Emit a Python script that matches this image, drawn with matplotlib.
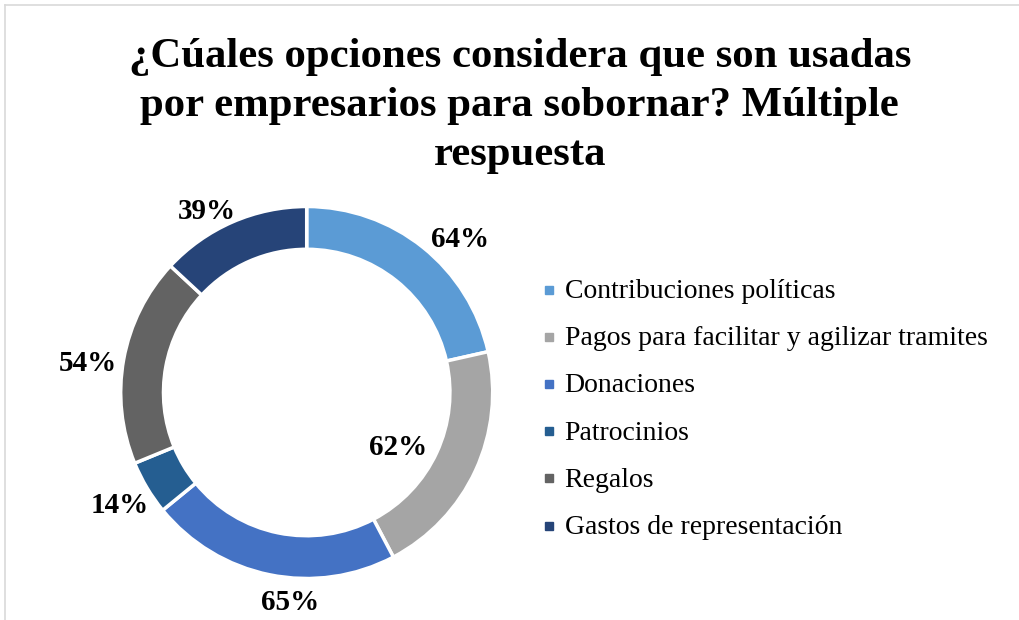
import numpy as np
import matplotlib
matplotlib.use('Agg')
import matplotlib.pyplot as plt
from matplotlib.lines import Line2D

# data
categories = ['Contribuciones políticas', 'Pagos para facilitar y agilizar tramites',
              'Donaciones', 'Patrocinios', 'Regalos', 'Gastos de representación']
values = [64, 62, 65, 14, 54, 39]
labels = ['64%', '62%', '65%', '14%', '54%', '39%']
title = '¿Cúales opciones considera que son usadas\npor empresarios para sobornar? Múltiple\nrespuesta'

colors = ['#5B9BD5', '#A5A5A5', '#4472C4', '#255E91', '#636363', '#264478']
# label placement tweaks (radius factor, angle nudge in degrees)
label_r = [1.17, 0.57, 1.12, 1.17, 1.19, 1.12]
label_da = [-6, -5.4, 6.9, 0, 2.3, 5.1]

plt.rcParams['font.family'] = 'Liberation Serif'

W, H = 1019, 620
fig = plt.figure(figsize=(W / 100, H / 100), dpi=100)

# pie axes: centre (306.7, 392.5) px, radius 186 px
cx, cy, R = 306.7, 392.5, 186
half = 1.1 * R
ax = fig.add_axes([(cx - half) / W, (H - cy - half) / H, 2 * half / W, 2 * half / H])
wedges, _ = ax.pie(values, colors=colors, startangle=90, counterclock=False, radius=1,
                   wedgeprops=dict(width=0.23, edgecolor='white', linewidth=2.5))
ax.set_xlim(-1.1, 1.1)
ax.set_ylim(-1.1, 1.1)
ax.set_aspect('equal')
ax.axis('off')

total = sum(values)
start = 90
for i, v in enumerate(values):
    span = v / total * 360
    mid = start - span / 2 + label_da[i]
    start -= span
    t = np.deg2rad(mid)
    ax.text(label_r[i] * np.cos(t), label_r[i] * np.sin(t) - 0.01, labels[i], ha='center', va='center',
            fontsize=21, fontweight='bold', clip_on=False)

fig.text(0.51, 1 - 106 / H, title, ha='center', va='center', fontsize=30.8, fontweight='bold',
         linespacing=1.38)

handles = [Line2D([], [], marker='s', ls='', markersize=6, color=c) for c in colors]
fig.legend(handles, categories, loc='upper left', bbox_to_anchor=(543 / W, 1 - 279 / H),
           frameon=False, fontsize=20, handlelength=0.4, handleheight=0.4,
           handletextpad=0.38, labelspacing=0.8, borderaxespad=0, borderpad=0)

# thin chart-area border along top and left
fig.add_artist(Line2D([5 / W, 1], [1 - 5 / H, 1 - 5 / H], color='#D9D9D9', lw=1.2))
fig.add_artist(Line2D([5 / W, 5 / W], [0, 1 - 5 / H], color='#D9D9D9', lw=1.2))

fig.savefig('out.png', dpi=100)
